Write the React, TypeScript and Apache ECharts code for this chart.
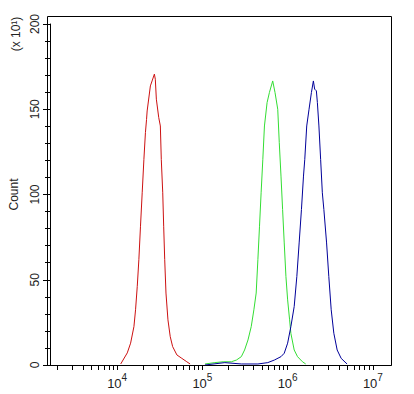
import React, { useEffect, useRef } from "react";
import * as echarts from "echarts";

// x values are log10(fluorescence intensity); y values are counts (x10^1)
const redX = [4.042, 4.119, 4.158, 4.197, 4.216, 4.236, 4.255, 4.274, 4.294, 4.314, 4.332, 4.345, 4.352, 4.390, 4.410, 4.437, 4.448, 4.460, 4.488, 4.507, 4.518, 4.535, 4.546, 4.558, 4.573, 4.596, 4.623, 4.651, 4.701, 4.759, 4.817, 4.856];
const redY = [0.6, 7.1, 12.8, 22.5, 32.4, 46.1, 61.8, 81.4, 101, 120.6, 136.3, 144, 149, 163.7, 166.6, 170.6, 167.6, 155.9, 145.1, 140.2, 120.6, 101, 81.4, 61.8, 42.2, 26.5, 16.6, 10.8, 5.9, 3.9, 1.9, 0.6];

const greenX = [5.030, 5.146, 5.244, 5.340, 5.399, 5.457, 5.495, 5.535, 5.573, 5.604, 5.631, 5.651, 5.670, 5.689, 5.709, 5.728, 5.759, 5.786, 5.825, 5.852, 5.884, 5.902, 5.922, 5.941, 5.960, 5.980, 6.000, 6.023, 6.038, 6.077, 6.116, 6.174, 6.212];
const greenY = [0.6, 1.4, 1.9, 1.9, 2.9, 4.9, 8.8, 14.7, 22.5, 32.4, 42.2, 61.8, 81.4, 101, 120.6, 140.2, 153.9, 159.8, 166.6, 159.8, 150, 130.4, 110.8, 91.2, 71.6, 51.9, 38.2, 26.5, 18.6, 8.8, 4.9, 1.9, 0.6];

const blueX = [5.030, 5.263, 5.457, 5.651, 5.767, 5.844, 5.922, 5.960, 6.000, 6.038, 6.077, 6.108, 6.135, 6.162, 6.186, 6.201, 6.224, 6.251, 6.279, 6.302, 6.317, 6.337, 6.349, 6.367, 6.387, 6.407, 6.425, 6.457, 6.483, 6.511, 6.542, 6.581, 6.628, 6.697];
const blueY = [0, 1.4, 0.6, 0.6, 1.4, 2.9, 4.9, 6.9, 12.8, 22.5, 34.3, 51.9, 71.6, 91.2, 110.8, 120.6, 140.2, 150, 159.8, 166.6, 161.8, 160.8, 153.9, 140.2, 120.6, 101, 91.2, 71.6, 51.9, 32.4, 18.6, 8.8, 3.9, 0.6];

const xMin = 3.2125;
const xMax = 7.2125;
const yMin = 0;
const yMaxTick = 200;
const yInterval = 50;
const xDecades = [4, 5, 6, 7];

const FONT = "Arial, 'Liberation Sans', sans-serif";
const TXT = "#222";

function xTicks(): number[] {
  const out: number[] = [];
  for (let d = 3; d <= 7; d++) {
    for (let k = 1; k <= 9; k++) {
      const v = d + Math.log10(k);
      if (v >= xMin && v <= xMax) out.push(v);
    }
  }
  return out;
}

const zip = (xs: number[], ys: number[]) => xs.map((x, i) => [x, ys[i]]);

export default function App() {
  const ref = useRef<HTMLDivElement>(null);
  useEffect(() => {
    if (!ref.current) return;
    const chart = echarts.init(ref.current, null, { renderer: "svg" });
    chart.setOption({
      animation: false,
      backgroundColor: "#fff",
      grid: { left: 47, top: 24, right: 23, bottom: 29, show: false, containLabel: false },
      xAxis: [
        {
          type: "value",
          min: xMin,
          max: xMax,
          axisLine: { show: true, lineStyle: { color: "#000", width: 1 } },
          axisTick: { show: true, length: 5, customValues: xTicks(), lineStyle: { color: "#000" } },
          axisLabel: {
            show: true,
            customValues: xDecades,
            margin: 7,
            formatter: (v: number) => `{b|10}{s|${Math.round(v)}}`,
            rich: {
              b: { fontSize: 13, fontFamily: FONT, color: TXT, lineHeight: 18, verticalAlign: "bottom" },
              s: { fontSize: 10, fontFamily: FONT, color: TXT, lineHeight: 10, verticalAlign: "top" },
            },
          },
          splitLine: { show: false },
        },
      ],
      yAxis: [
        {
          type: "value",
          min: yMin,
          max: yMaxTick,
          interval: yInterval,
          axisLine: { show: true, lineStyle: { color: "#000", width: 1 } },
          axisTick: { show: true, length: 7, lineStyle: { color: "#000" } },
          minorTick: { show: true, splitNumber: 5, length: 5, lineStyle: { color: "#000" } },
          axisLabel: { show: true, rotate: 90, margin: 9, fontSize: 12, fontFamily: FONT, color: TXT },
          splitLine: { show: false },
          minorSplitLine: { show: false },
          name: "Count",
          nameLocation: "middle",
          nameGap: 30,
          nameRotate: 90,
          nameTextStyle: { fontSize: 12, fontFamily: FONT, color: TXT },
        },
      ],
      graphic: [
        {
          type: "rect",
          z: 0,
          shape: { x: 47.5, y: 16.5, width: 344, height: 349 },
          style: { fill: "none", stroke: "#000", lineWidth: 1 },
          silent: true,
        },
        {
          type: "text",
          x: 16,
          y: 34,
          rotation: Math.PI / 2,
          style: { text: "(x 10¹)", fontSize: 12, fontFamily: FONT, fill: TXT, align: "center", verticalAlign: "middle" },
        },
      ],
      series: [
        { type: "line", data: zip(redX, redY), showSymbol: false, lineStyle: { color: "#cc1111", width: 1 }, itemStyle: { color: "#cc1111" } },
        { type: "line", data: zip(greenX, greenY), showSymbol: false, lineStyle: { color: "#33dd33", width: 1 }, itemStyle: { color: "#33dd33" } },
        { type: "line", data: zip(blueX, blueY), showSymbol: false, lineStyle: { color: "#000099", width: 1 }, itemStyle: { color: "#000099" } },
      ],
    });
    return () => chart.dispose();
  }, []);
  return <div ref={ref} style={{ position: "fixed", left: 0, top: 0, width: 414, height: 394, background: "#fff" }} />;
}
